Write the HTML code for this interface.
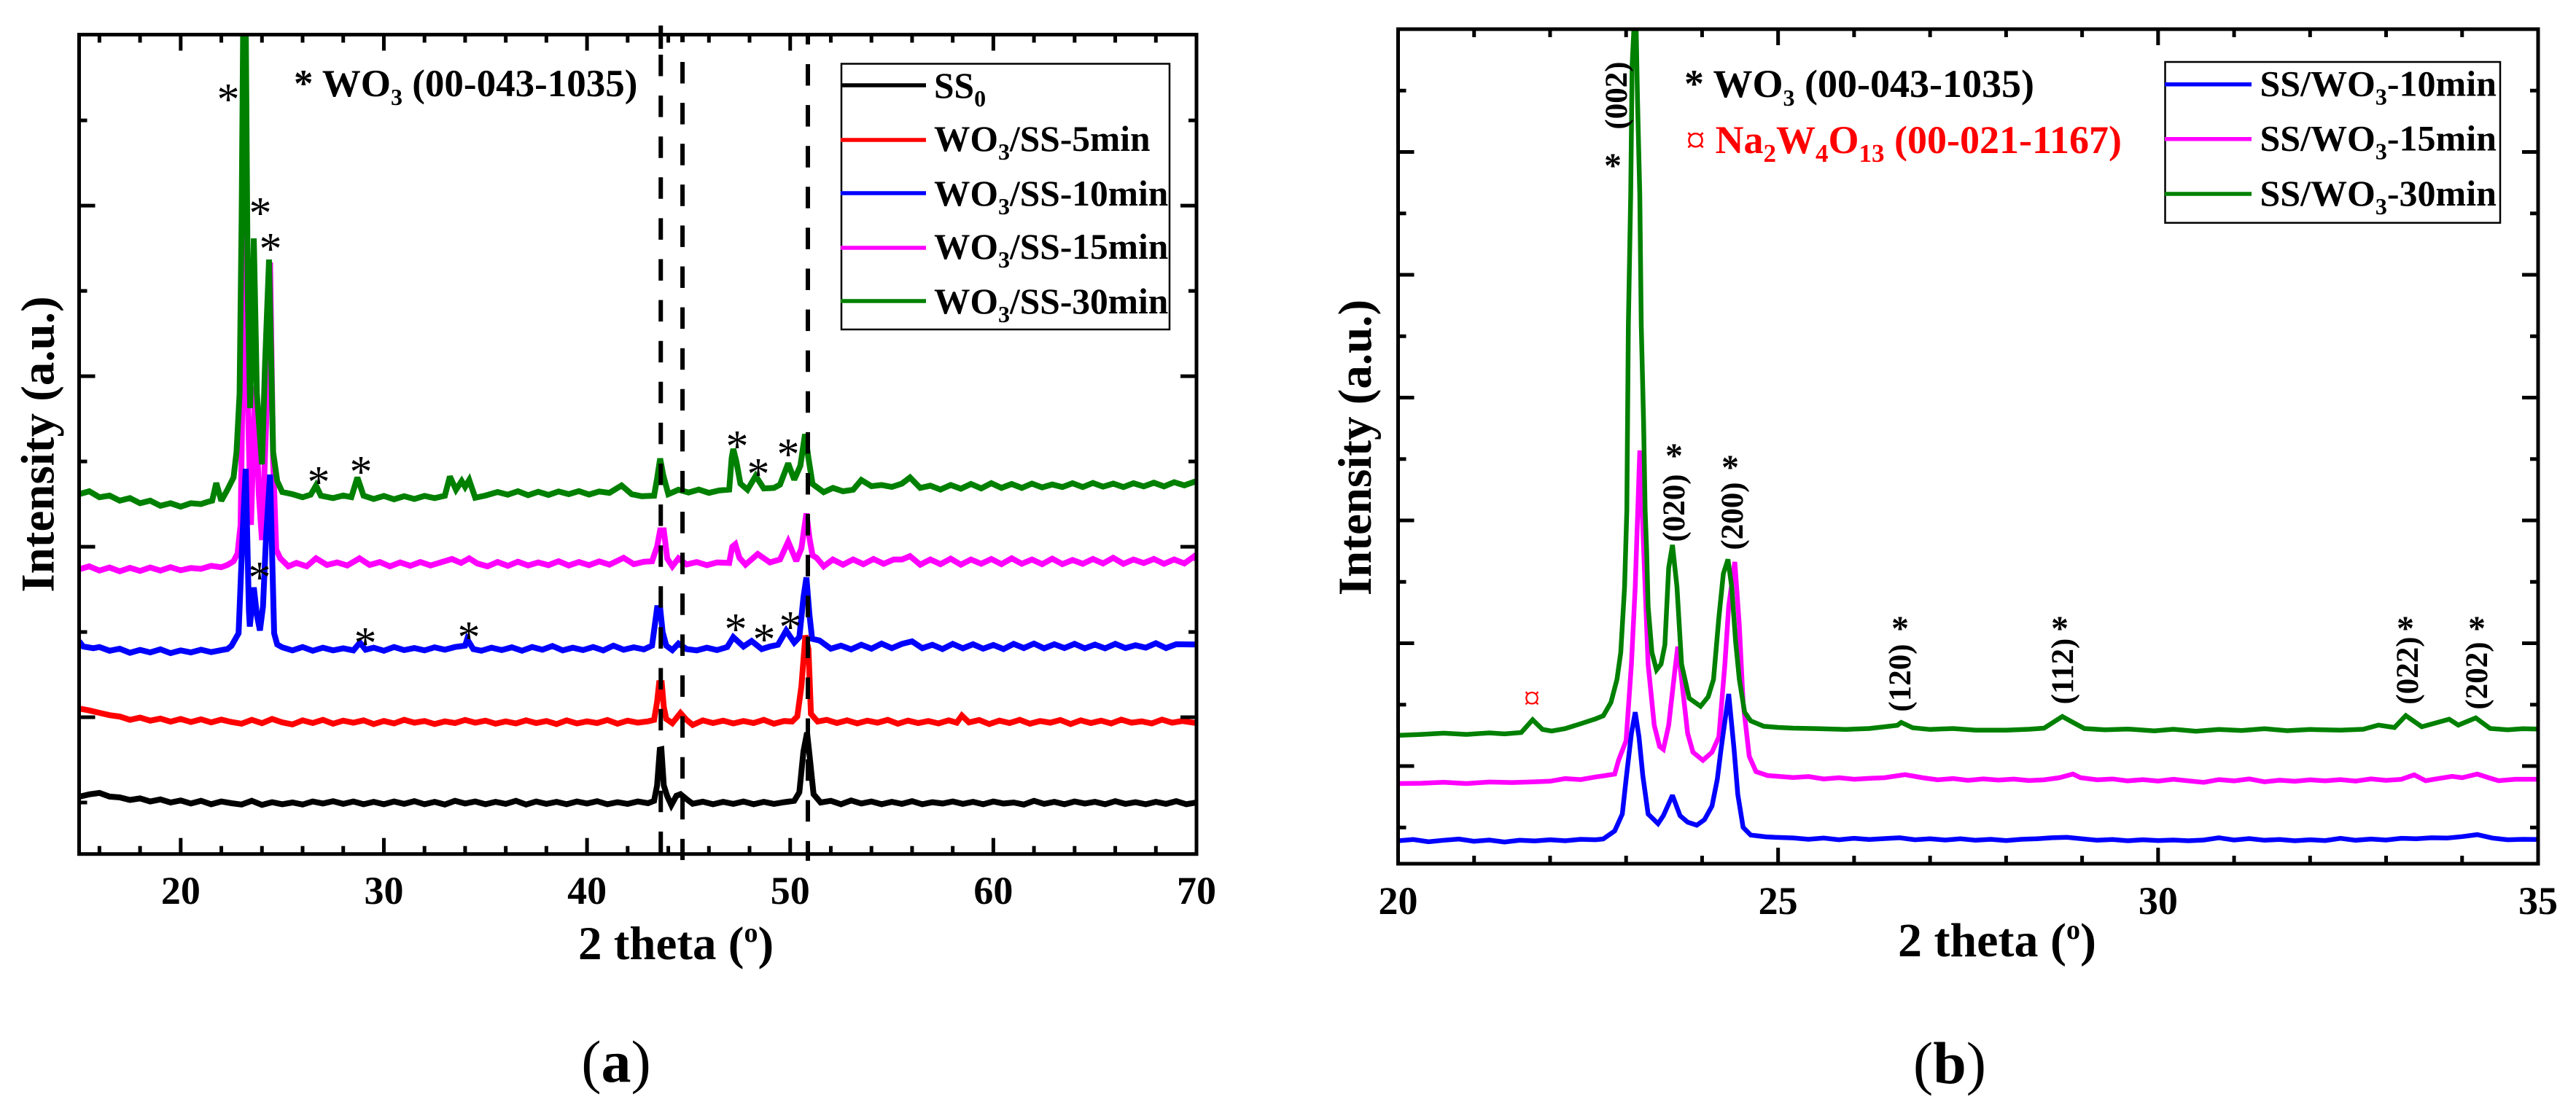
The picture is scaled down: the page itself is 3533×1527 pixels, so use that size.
<!DOCTYPE html>
<html lang="en">
<head>
<meta charset="utf-8">
<title>XRD patterns of WO3 on stainless steel</title>
<style>
html,body{margin:0;padding:0;background:#fff;}
svg{display:block;font-family:"Liberation Serif",serif;font-weight:bold;}
</style>
</head>
<body>
<svg id="figure" xmlns="http://www.w3.org/2000/svg" width="3533" height="1527" viewBox="0 0 3533 1527">
<rect width="3533" height="1527" fill="#fff"/>
<defs>
<clipPath id="clipA"><rect x="108.5" y="47.5" width="1532.5" height="1124.2"/></clipPath>
<clipPath id="clipB"><rect x="1917.5" y="40" width="1563.5" height="1145"/></clipPath>
</defs>

<g id="panelA">
<g id="seriesA" clip-path="url(#clipA)"></g>
<g id="refA"></g>
<rect x="108.5" y="47.5" width="1532.5" height="1124.2" fill="none" stroke="#000" stroke-width="5"/>
<g id="ticksA"></g>
<text x="793" y="1316" font-size="65">2 theta (<tspan font-size="38" dy="-24">o</tspan><tspan dy="24">)</tspan></text>
<text transform="translate(73.5 609.5) rotate(-90)" text-anchor="middle" font-size="65">Intensity (a.u.)</text>
<text x="403" y="132" font-size="53">* WO<tspan font-size="32" dy="12">3</tspan><tspan dy="-12"> (00-043-1035)</tspan></text>
<g font-size="62" font-weight="normal" text-anchor="middle">
<text x="313" y="157">*</text>
<text x="357" y="313">*</text>
<text x="371" y="362">*</text>
<text x="437" y="682">*</text>
<text x="495" y="668">*</text>
<text x="1011" y="633">*</text>
<text x="1040" y="671">*</text>
<text x="1081" y="644">*</text>
<text x="356" y="813">*</text>
<text x="501" y="903">*</text>
<text x="643" y="895">*</text>
<text x="1009" y="884">*</text>
<text x="1048" y="898">*</text>
<text x="1084" y="881">*</text>
</g>
<g>
<rect x="1154" y="87.5" width="450" height="364.5" fill="#fff" stroke="#000" stroke-width="2.5"/>
<g font-size="49.5">
<line x1="1153" x2="1270" y1="117" y2="117" stroke="#000" stroke-width="5.5"/>
<text x="1281" y="134">SS<tspan font-size="32" dy="12">0</tspan></text>
<line x1="1153" x2="1270" y1="192" y2="192" stroke="#ff0000" stroke-width="5.5"/>
<text x="1281" y="207">WO<tspan font-size="32" dy="12">3</tspan><tspan dy="-12">/SS-5min</tspan></text>
<line x1="1153" x2="1270" y1="265" y2="265" stroke="#0000ff" stroke-width="5.5"/>
<text x="1281" y="282">WO<tspan font-size="32" dy="12">3</tspan><tspan dy="-12">/SS-10min</tspan></text>
<line x1="1153" x2="1270" y1="340" y2="340" stroke="#ff00ff" stroke-width="5.5"/>
<text x="1281" y="355">WO<tspan font-size="32" dy="12">3</tspan><tspan dy="-12">/SS-15min</tspan></text>
<line x1="1153" x2="1270" y1="413" y2="413" stroke="#008000" stroke-width="5.5"/>
<text x="1281" y="430">WO<tspan font-size="32" dy="12">3</tspan><tspan dy="-12">/SS-30min</tspan></text>
</g>
</g>
<text y="1484" x="845" text-anchor="middle" font-size="82"><tspan font-weight="normal">(</tspan>a<tspan font-weight="normal">)</tspan></text>
</g>

<g id="panelB">
<g id="seriesB" clip-path="url(#clipB)"></g>
<rect x="1917.5" y="40" width="1563.5" height="1145" fill="none" stroke="#000" stroke-width="5"/>
<g id="ticksB"></g>
<text x="2603" y="1312" font-size="66">2 theta (<tspan font-size="38" dy="-24">o</tspan><tspan dy="24">)</tspan></text>
<text transform="translate(1880 614) rotate(-90)" text-anchor="middle" font-size="65">Intensity (a.u.)</text>
<text x="2310" y="133" font-size="54">* WO<tspan font-size="32" dy="12">3</tspan><tspan dy="-12"> (00-043-1035)</tspan></text>
<text x="2312" y="210" font-size="54" fill="#ff0000"><tspan font-weight="normal">¤</tspan> Na<tspan font-size="35" dy="12">2</tspan><tspan dy="-12">W</tspan><tspan font-size="35" dy="12">4</tspan><tspan dy="-12">O</tspan><tspan font-size="35" dy="12">13</tspan><tspan dy="-12"> (00-021-1167)</tspan></text>
<g font-size="43" text-anchor="middle">
<text transform="translate(2231 131) rotate(-90)">(002)</text>
<text transform="translate(2310 697) rotate(-90)">(020)</text>
<text transform="translate(2390 708) rotate(-90)">(200)</text>
<text transform="translate(2620 930) rotate(-90)">(120)</text>
<text transform="translate(2843 921) rotate(-90)">(112)</text>
<text transform="translate(3316 920) rotate(-90)">(022)</text>
<text transform="translate(3411 927) rotate(-90)">(202)</text>
</g>
<g font-size="48" text-anchor="middle">
<text x="2212" y="243">*</text>
<text x="2296" y="641">*</text>
<text x="2373" y="657">*</text>
<text x="2606" y="878">*</text>
<text x="2825" y="878">*</text>
<text x="3299" y="878">*</text>
<text x="3397" y="878">*</text>
</g>
<text x="2101" y="973" font-size="46" font-weight="normal" text-anchor="middle" fill="#ff0000">¤</text>
<g>
<rect x="2969.5" y="85" width="459.5" height="220.7" fill="#fff" stroke="#000" stroke-width="2.5"/>
<g font-size="50">
<line x1="2969" x2="3088" y1="115.7" y2="115.7" stroke="#0000ff" stroke-width="5.5"/>
<text x="3099.5" y="131.7">SS/WO<tspan font-size="32" dy="12">3</tspan><tspan dy="-12">-10min</tspan></text>
<line x1="2969" x2="3088" y1="190.7" y2="190.7" stroke="#ff00ff" stroke-width="5.5"/>
<text x="3099.5" y="206.7">SS/WO<tspan font-size="32" dy="12">3</tspan><tspan dy="-12">-15min</tspan></text>
<line x1="2969" x2="3088" y1="266" y2="266" stroke="#008000" stroke-width="5.5"/>
<text x="3099.5" y="282">SS/WO<tspan font-size="32" dy="12">3</tspan><tspan dy="-12">-30min</tspan></text>
</g>
</g>
<text y="1486" x="2674" text-anchor="middle" font-size="82"><tspan font-weight="normal">(</tspan>b<tspan font-weight="normal">)</tspan></text>
</g>
</svg>

<script>
// Panel (a) axis data
const aXMajorTicks = [20, 30, 40, 50, 60];
const aXMinorTicks = [16, 18, 22, 24, 26, 28, 32, 34, 36, 38, 42, 44, 46, 48, 52, 54, 56, 58, 62, 64, 66, 68];
const aXTickLabels = [20, 30, 40, 50, 60, 70];
const aYMajorTicks = [1000, 2000, 3000, 4000];
const aYMinorTicks = [500, 1500, 2500, 3500, 4500];
const aRefPeaks = [43.63, 44.7, 50.87];

// Panel (b) axis data
const bXMajorTicks = [25, 30];
const bXMinorTicks = [21, 22, 23, 24, 26, 27, 28, 29, 31, 32, 33, 34];
const bXTickLabels = [20, 25, 30, 35];
const bYMajorTicks = [1000, 2000, 3000, 4000, 5000, 6000];
const bYMinorTicks = [500, 1500, 2500, 3500, 4500, 5500, 6500];

// Panel (a) series: [2 theta, intensity]
const aSS0 = [[15,534],[15.5,548],[16,556],[16.5,535],[17,530],[17.5,515],[18,524],[18.5,506],[19,518],[19.5,500],[20,512],[20.5,494],[21,510],[21.5,490],[22,506],[22.5,496],[23,488],[23.5,510],[24,486],[24.5,502],[25,490],[25.5,500],[26,488],[26.5,506],[27,494],[27.5,508],[28,492],[28.5,506],[29,490],[29.5,504],[30,490],[30.5,506],[31,492],[31.5,508],[32,490],[32.5,504],[33,488],[33.5,510],[34,494],[34.5,506],[35,490],[35.5,504],[36,492],[36.5,510],[37,488],[37.5,506],[38,492],[38.5,504],[39,490],[39.5,506],[40,494],[40.5,508],[41,490],[41.5,502],[42,492],[42.5,506],[43,496],[43.3,510],[43.45,600],[43.58,810],[43.66,812],[43.78,600],[43.95,536],[44.15,485],[44.4,540],[44.6,549],[44.9,520],[45.2,493],[45.7,505],[46.2,490],[46.7,504],[47.2,492],[47.7,506],[48.2,490],[48.7,504],[49.2,492],[49.7,502],[50.2,510],[50.45,560],[50.65,800],[50.83,910],[50.95,780],[51.15,549],[51.5,500],[52,510],[52.5,490],[53,512],[53.5,494],[54,506],[54.5,490],[55,504],[55.5,492],[56,508],[56.5,490],[57,502],[57.5,494],[58,506],[58.5,492],[59,504],[59.5,490],[60,506],[60.5,494],[61,500],[61.5,488],[62,510],[62.5,492],[63,504],[63.5,490],[64,506],[64.5,494],[65,504],[65.5,490],[66,508],[66.5,492],[67,502],[67.5,490],[68,504],[68.5,492],[69,508],[69.5,490],[70,500]];

const a5min = [[15,1051],[15.5,1040],[16,1026],[16.5,1012],[17,1004],[17.5,985],[18,998],[18.5,980],[19,992],[19.5,974],[20,990],[20.5,972],[21,988],[21.5,970],[22,986],[22.5,972],[23,962],[23.5,985],[24,965],[24.5,990],[25,970],[25.5,958],[26,982],[26.5,966],[27,985],[27.5,962],[28,980],[28.5,968],[29,982],[29.5,960],[30,978],[30.5,964],[31,985],[31.5,968],[32,978],[32.5,960],[33,976],[33.5,966],[34,984],[34.5,968],[35,980],[35.5,962],[36,976],[36.5,964],[37,982],[37.5,966],[38,978],[38.5,960],[39,982],[39.5,964],[40,976],[40.5,966],[41,984],[41.5,962],[42,980],[42.5,968],[43,976],[43.3,985],[43.45,1090],[43.55,1200],[43.68,1200],[43.78,1060],[43.9,990],[44.2,965],[44.6,1025],[44.9,985],[45.2,955],[45.7,982],[46.2,966],[46.7,980],[47.2,964],[47.7,978],[48.2,966],[48.7,985],[49.2,962],[49.7,978],[50.1,975],[50.35,1005],[50.55,1180],[50.75,1480],[50.9,1400],[51.02,1020],[51.35,975],[51.8,985],[52.3,966],[52.8,982],[53.3,964],[53.8,980],[54.3,968],[54.8,985],[55.3,962],[55.8,980],[56.3,966],[56.8,978],[57.3,964],[57.8,982],[58.2,968],[58.45,1010],[58.8,970],[59.3,984],[59.8,960],[60.3,980],[60.8,966],[61.3,985],[61.8,962],[62.3,978],[62.8,968],[63.3,984],[63.8,960],[64.3,982],[64.8,966],[65.3,980],[65.8,964],[66.3,986],[66.8,968],[67.3,976],[67.8,964],[68.3,986],[68.8,968],[69.3,978],[70,966]];

const a10min = [[15,1445],[15.2,1415],[15.7,1405],[16,1412],[16.5,1390],[17,1402],[17.5,1378],[18,1395],[18.5,1380],[19,1398],[19.5,1376],[20,1392],[20.5,1380],[21,1396],[21.5,1382],[22,1394],[22.3,1400],[22.5,1419],[22.85,1492],[23.05,2081],[23.2,2457],[23.36,1624],[23.4,1532],[23.6,1761],[23.75,1600],[23.9,1509],[24.05,1650],[24.2,2047],[24.4,2423],[24.6,1492],[24.75,1427],[25,1410],[25.5,1392],[26,1412],[26.5,1390],[27,1408],[27.5,1392],[28,1404],[28.5,1392],[28.82,1438],[29.1,1396],[29.5,1408],[30,1390],[30.5,1412],[31,1394],[31.5,1406],[32,1392],[32.5,1410],[33,1396],[33.5,1412],[34,1420],[34.1,1458],[34.4,1400],[34.8,1390],[35.3,1408],[35.8,1394],[36.3,1410],[36.8,1390],[37.3,1412],[37.8,1396],[38.3,1418],[38.8,1392],[39.3,1408],[39.8,1394],[40.3,1412],[40.8,1392],[41.3,1420],[41.8,1396],[42.3,1410],[42.8,1398],[43.2,1420],[43.45,1640],[43.6,1640],[43.72,1500],[43.9,1420],[44.2,1394],[44.5,1432],[44.9,1400],[45.4,1392],[45.9,1408],[46.4,1394],[46.9,1412],[47.2,1470],[47.7,1415],[48.1,1447],[48.6,1400],[49,1415],[49.4,1425],[49.8,1508],[50.2,1438],[50.45,1470],[50.65,1700],[50.8,1820],[50.95,1600],[51.08,1460],[51.45,1450],[52,1402],[52.5,1420],[53,1398],[53.5,1425],[54,1402],[54.5,1432],[55,1405],[55.5,1430],[56,1445],[56.5,1405],[57,1425],[57.5,1400],[58,1430],[58.5,1404],[59,1428],[59.5,1402],[60,1424],[60.5,1400],[61,1430],[61.5,1406],[62,1432],[62.5,1404],[63,1428],[63.5,1406],[64,1430],[64.5,1404],[65,1426],[65.5,1404],[66,1430],[66.5,1406],[67,1422],[67.5,1408],[68,1434],[68.5,1406],[69,1428],[70,1427]];

const a15min = [[15,1868],[15.5,1885],[16,1860],[16.5,1878],[17,1856],[17.5,1876],[18,1858],[18.5,1878],[19,1860],[19.5,1880],[20,1862],[20.5,1875],[21,1870],[21.5,1888],[22,1880],[22.3,1893],[22.6,1915],[22.8,1960],[22.95,2128],[23.05,3000],[23.15,4022],[23.25,3100],[23.46,2128],[23.66,2940],[23.85,2300],[24,2039],[24.2,2700],[24.4,3667],[24.55,2500],[24.7,1983],[24.9,1932],[25.3,1885],[25.7,1905],[26.2,1885],[26.66,1932],[27.2,1893],[27.7,1908],[28.2,1890],[28.8,1932],[29.3,1893],[29.8,1910],[30.3,1885],[30.8,1908],[31.3,1888],[31.8,1910],[32.3,1890],[32.8,1908],[33.35,1928],[33.8,1905],[34.2,1932],[34.6,1902],[35.1,1885],[35.6,1910],[36.1,1888],[36.6,1912],[37.1,1890],[37.6,1908],[38.1,1892],[38.6,1915],[39.1,1890],[39.6,1910],[40.1,1892],[40.6,1914],[41.1,1895],[41.8,1935],[42.3,1898],[42.8,1912],[43.2,1915],[43.45,2000],[43.6,2096],[43.78,2096],[43.95,1930],[44.2,1885],[44.5,1932],[44.9,1896],[45.4,1910],[45.9,1892],[46.4,1908],[47,1905],[47.15,2000],[47.3,2015],[47.5,1935],[47.8,1895],[48.4,1957],[49,1908],[49.5,1925],[49.9,2030],[50.3,1916],[50.55,1990],[50.8,2195],[50.95,2050],[51.1,1949],[51.3,1935],[51.65,1885],[52.1,1925],[52.6,1895],[53.1,1925],[53.6,1898],[54.1,1928],[54.6,1900],[55.1,1925],[55.5,1925],[55.9,1945],[56.4,1895],[56.9,1925],[57.4,1898],[57.9,1930],[58.4,1895],[58.9,1925],[59.4,1900],[59.9,1928],[60.4,1898],[60.9,1932],[61.4,1900],[61.9,1925],[62.4,1898],[62.9,1930],[63.4,1898],[63.9,1922],[64.4,1900],[64.9,1928],[65.4,1902],[65.9,1935],[66.4,1900],[66.9,1925],[67.4,1904],[67.9,1928],[68.4,1900],[68.9,1925],[69.4,1902],[69.9,1945],[70,1923]];

const a30min = [[15,2308],[15.5,2325],[16,2290],[16.5,2300],[17,2270],[17.5,2285],[18,2255],[18.5,2270],[19,2240],[19.5,2255],[20,2235],[20.5,2255],[21,2250],[21.3,2262],[21.55,2270],[21.75,2374],[22,2269],[22.3,2334],[22.6,2406],[22.75,2556],[22.9,2898],[23,3923],[23.08,5100],[23.2,5100],[23.3,3496],[23.42,2812],[23.6,3808],[23.75,2898],[24,2483],[24.15,3069],[24.35,3684],[24.55,2556],[24.75,2385],[25,2321],[25.5,2308],[26,2290],[26.4,2305],[26.66,2359],[26.9,2299],[27.5,2285],[28,2300],[28.4,2291],[28.7,2406],[29,2299],[29.5,2280],[30,2298],[30.5,2278],[31,2296],[31.5,2280],[32,2298],[32.5,2285],[33,2299],[33.25,2412],[33.55,2334],[33.83,2385],[34,2351],[34.2,2391],[34.5,2287],[35,2300],[35.6,2321],[36.1,2305],[36.6,2325],[37.1,2302],[37.6,2322],[38.1,2304],[38.6,2324],[39.1,2308],[39.6,2326],[40.1,2306],[40.6,2324],[41.1,2316],[41.7,2359],[42.2,2308],[42.7,2296],[43.3,2299],[43.45,2400],[43.6,2517],[43.75,2420],[44,2308],[44.5,2334],[45,2318],[45.5,2335],[46,2316],[46.5,2330],[47,2335],[47.12,2520],[47.2,2573],[47.35,2500],[47.55,2370],[47.9,2334],[48.3,2415],[48.7,2342],[49.2,2345],[49.5,2364],[49.9,2489],[50.2,2393],[50.5,2475],[50.73,2660],[50.9,2520],[51.1,2368],[51.65,2320],[52.1,2345],[52.6,2325],[53.1,2334],[53.5,2391],[54,2355],[54.5,2362],[55,2351],[55.5,2370],[55.9,2406],[56.4,2345],[56.9,2358],[57.4,2335],[57.9,2362],[58.4,2340],[58.9,2368],[59.4,2342],[59.9,2372],[60.4,2345],[60.9,2368],[61.4,2345],[61.9,2370],[62.4,2348],[62.9,2365],[63.4,2350],[63.9,2372],[64.4,2350],[64.9,2374],[65.4,2352],[65.9,2370],[66.4,2350],[66.9,2372],[67.4,2354],[67.9,2375],[68.4,2354],[68.9,2378],[69.4,2360],[70,2385]];

// Panel (b) series: [2 theta, intensity]
const b10min = [[20,392],[20.2,402],[20.4,384],[20.6,396],[20.8,406],[21,388],[21.2,398],[21.4,382],[21.6,396],[21.8,390],[22,400],[22.2,392],[22.4,404],[22.6,400],[22.7,407],[22.85,472],[22.95,610],[23,893],[23.07,1267],[23.12,1439],[23.17,1237],[23.22,923],[23.29,610],[23.42,531],[23.49,596],[23.61,762],[23.71,596],[23.81,543],[23.93,519],[24.03,563],[24.13,674],[24.2,893],[24.25,1142],[24.35,1587],[24.42,1142],[24.47,769],[24.54,501],[24.64,438],[24.84,424],[24.96,420],[25.2,415],[25.4,404],[25.6,414],[25.8,400],[26,412],[26.2,402],[26.4,410],[26.6,416],[26.8,400],[27,408],[27.2,398],[27.4,408],[27.6,396],[27.8,404],[28,394],[28.2,404],[28.4,408],[28.6,416],[28.8,420],[29,408],[29.2,396],[29.4,402],[29.6,392],[29.8,400],[30,394],[30.2,398],[30.4,392],[30.6,398],[30.8,416],[31,398],[31.2,410],[31.4,396],[31.6,402],[31.8,392],[32,400],[32.2,394],[32.4,412],[32.6,396],[32.8,406],[33,398],[33.2,412],[33.4,408],[33.6,416],[33.8,414],[34,426],[34.2,442],[34.4,414],[34.6,400],[34.8,404],[35,402]];

const b15min = [[20,858],[20.3,860],[20.6,868],[20.9,858],[21.2,870],[21.5,866],[21.8,872],[22,877],[22.2,898],[22.4,890],[22.6,912],[22.7,920],[22.85,935],[22.9,1046],[23,1207],[23.07,1830],[23.12,2457],[23.18,3570],[23.25,2459],[23.29,1830],[23.37,1332],[23.44,1160],[23.49,1136],[23.56,1332],[23.64,1768],[23.68,1973],[23.73,1706],[23.81,1267],[23.88,1113],[24.01,1047],[24.13,1113],[24.22,1237],[24.3,1830],[24.35,2300],[24.43,2662],[24.49,2145],[24.54,1516],[24.62,1080],[24.71,955],[24.86,923],[25.2,907],[25.4,915],[25.6,895],[25.8,905],[26,893],[26.2,900],[26.4,905],[26.67,930],[26.9,905],[27.1,888],[27.3,898],[27.5,884],[27.7,896],[27.9,886],[28.1,894],[28.3,882],[28.5,888],[28.7,905],[28.88,935],[28.98,905],[29.2,888],[29.4,895],[29.6,880],[29.8,890],[30,878],[30.2,892],[30.4,880],[30.6,868],[30.8,890],[31,880],[31.2,895],[31.4,872],[31.6,885],[31.8,876],[32,888],[32.2,880],[32.4,890],[32.6,878],[32.8,896],[33,884],[33.2,892],[33.37,929],[33.52,881],[33.7,900],[33.87,916],[34,905],[34.2,935],[34.35,905],[34.48,881],[34.7,893],[35,893]];

const b30min = [[20,1250],[20.3,1258],[20.6,1268],[20.9,1258],[21.2,1270],[21.4,1262],[21.62,1273],[21.77,1377],[21.9,1299],[22.02,1285],[22.2,1305],[22.41,1346],[22.6,1385],[22.7,1410],[22.8,1518],[22.88,1706],[22.93,1926],[22.98,2457],[23.01,3083],[23.03,4588],[23.06,5647],[23.08,6709],[23.11,7100],[23.13,7100],[23.15,6443],[23.18,5647],[23.2,4588],[23.23,3796],[23.25,3083],[23.27,2770],[23.29,2300],[23.34,1926],[23.4,1783],[23.46,1830],[23.51,1988],[23.56,2614],[23.61,2801],[23.67,2457],[23.73,1830],[23.83,1552],[23.98,1487],[24.08,1564],[24.15,1706],[24.22,2207],[24.28,2567],[24.34,2683],[24.39,2457],[24.44,2021],[24.49,1706],[24.56,1439],[24.64,1368],[24.81,1324],[25,1315],[25.2,1309],[25.5,1305],[25.89,1299],[26.2,1306],[26.57,1332],[26.62,1356],[26.77,1312],[27,1298],[27.3,1306],[27.6,1292],[28,1293],[28.3,1300],[28.5,1309],[28.74,1404],[28.88,1356],[29.03,1306],[29.3,1296],[29.6,1302],[29.95,1287],[30.2,1300],[30.5,1284],[30.8,1298],[31.1,1290],[31.4,1304],[31.7,1288],[32,1298],[32.4,1293],[32.7,1300],[32.9,1334],[33.11,1314],[33.26,1411],[33.47,1320],[33.83,1381],[33.95,1334],[34.18,1392],[34.37,1306],[34.6,1296],[34.8,1304],[35,1302]];

// Scales
function xA(t){ return 108.5 + (t - 15) * 27.864; }
function yA(v){ return 1171.7 - (v - 198) * 0.23397; }
function xB(t){ return 1917.5 + (t - 20) * 104.233; }
function yB(v){ return 1185 - (v - 205) * 0.1685; }

const NS = 'http://www.w3.org/2000/svg';

function drawSeries(group, data, color, width, sx, sy, name){
  const el = document.createElementNS(NS, 'polyline');
  
  
  el.setAttribute('points', data.map(function(d){ return sx(d[0]).toFixed(1) + ',' + sy(d[1]).toFixed(1); }).join(' '));
  el.setAttribute('fill', 'none');
  el.setAttribute('stroke', color);
  el.setAttribute('stroke-width', width);
  el.setAttribute('stroke-linejoin', 'miter');
  el.setAttribute('stroke-miterlimit', '2.5');
  group.appendChild(el);
}

function tickLine(group, x1, y1, x2, y2, name){
  const el = document.createElementNS(NS, 'line');
  
  
  el.setAttribute('x1', x1);
  el.setAttribute('y1', y1);
  el.setAttribute('x2', x2);
  el.setAttribute('y2', y2);
  el.setAttribute('stroke', '#000');
  el.setAttribute('stroke-width', '5');
  group.appendChild(el);
}

function drawTicks(group, sx, sy, left, right, top, bottom, xMajor, xMinor, yMajor, yMinor, labels, labelY){
  const majorLen = 22, minorLen = 11;
  xMajor.forEach(function(t){
    tickLine(group, sx(t), bottom, sx(t), bottom - majorLen, 'x-major-tick');
    tickLine(group, sx(t), top, sx(t), top + majorLen, 'x-major-tick-top');
  });
  xMinor.forEach(function(t){
    tickLine(group, sx(t), bottom, sx(t), bottom - minorLen, 'x-minor-tick');
    tickLine(group, sx(t), top, sx(t), top + minorLen, 'x-minor-tick-top');
  });
  yMajor.forEach(function(v){
    tickLine(group, left, sy(v), left + majorLen, sy(v), 'y-major-tick');
    tickLine(group, right, sy(v), right - majorLen, sy(v), 'y-major-tick-right');
  });
  yMinor.forEach(function(v){
    tickLine(group, left, sy(v), left + minorLen, sy(v), 'y-minor-tick');
    tickLine(group, right, sy(v), right - minorLen, sy(v), 'y-minor-tick-right');
  });
  labels.forEach(function(t){
    const el = document.createElementNS(NS, 'text');
    
    
    el.setAttribute('x', sx(t));
    el.setAttribute('y', labelY);
    el.setAttribute('text-anchor', 'middle');
    el.setAttribute('font-size', '54');
    el.textContent = String(t);
    group.appendChild(el);
  });
}

function refLine(group, t, y1, y2, dashed){
  const el = document.createElementNS(NS, 'line');
  
  
  el.setAttribute('x1', xA(t));
  el.setAttribute('x2', xA(t));
  el.setAttribute('y1', y1);
  el.setAttribute('y2', y2);
  el.setAttribute('stroke', '#000');
  el.setAttribute('stroke-width', '6');
  if (dashed) el.setAttribute('stroke-dasharray', '29.5 26.6');
  group.appendChild(el);
}

const gA = document.getElementById('seriesA');
drawSeries(gA, a15min, '#ff00ff', 8, xA, yA, 'series-wo3-ss-15min');
drawSeries(gA, a30min, '#008000', 8, xA, yA, 'series-wo3-ss-30min');
drawSeries(gA, a10min, '#0000ff', 8, xA, yA, 'series-wo3-ss-10min');
drawSeries(gA, a5min, '#ff0000', 8, xA, yA, 'series-wo3-ss-5min');
drawSeries(gA, aSS0, '#000000', 8, xA, yA, 'series-ss0');

const gR = document.getElementById('refA');
refLine(gR, aRefPeaks[0], 35, 67, false);
refLine(gR, aRefPeaks[0], 75, 1170, true);
refLine(gR, aRefPeaks[1], 48, 58, false);
refLine(gR, aRefPeaks[1], 85, 1180, true);
refLine(gR, aRefPeaks[2], 49, 61, false);
refLine(gR, aRefPeaks[2], 88, 1181, true);

drawTicks(document.getElementById('ticksA'), xA, yA, 108.5, 1641, 47.5, 1171.7,
  aXMajorTicks, aXMinorTicks, aYMajorTicks, aYMinorTicks, aXTickLabels, 1240);

const gB = document.getElementById('seriesB');
drawSeries(gB, b15min, '#ff00ff', 6.5, xB, yB, 'series-ss-wo3-15min');
drawSeries(gB, b10min, '#0000ff', 6.5, xB, yB, 'series-ss-wo3-10min');
drawSeries(gB, b30min, '#008000', 6.5, xB, yB, 'series-ss-wo3-30min');

drawTicks(document.getElementById('ticksB'), xB, yB, 1917.5, 3481, 40, 1185,
  bXMajorTicks, bXMinorTicks, bYMajorTicks, bYMinorTicks, bXTickLabels, 1254);
</script>
</body>
</html>
